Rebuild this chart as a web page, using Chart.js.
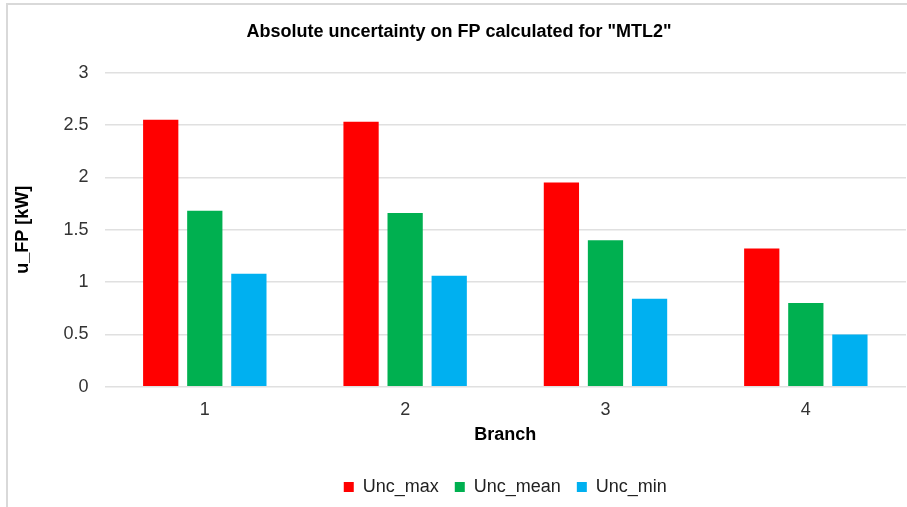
<!DOCTYPE html>
<html>
<head>
<meta charset="utf-8">
<script src="https://cdn.jsdelivr.net/npm/chart.js@4/dist/chart.umd.min.js"></script>
<style>
  html, body { margin: 0; padding: 0; background: #fff; }
  #wrap { position: relative; width: 907px; height: 507px; overflow: hidden; }
  #frame { position: absolute; left: 6px; top: 3px; width: 1000px; height: 1000px; border-left: 2px solid #d9d9d9; border-top: 2px solid #d9d9d9; box-sizing: border-box; }
  canvas { position: absolute; left: 0; top: 0; }
</style>
</head>
<body>
<div id="wrap">
  <div id="frame"></div>
  <canvas id="c" width="907" height="507"></canvas>
</div>
<script>
const categories = ["1", "2", "3", "4"];
const uncMax = [2.55, 2.53, 1.95, 1.32];
const uncMean = [1.68, 1.66, 1.40, 0.80];
const uncMin = [1.08, 1.06, 0.84, 0.50];
const seriesNames = ["Unc_max", "Unc_mean", "Unc_min"];

const FONT = "'Liberation Sans', Arial, sans-serif";

new Chart(document.getElementById('c'), {
  type: 'bar',
  data: {
    labels: categories,
    datasets: [
      { label: seriesNames[0], data: uncMax, backgroundColor: '#ff0000' },
      { label: seriesNames[1], data: uncMean, backgroundColor: '#00b050' },
      { label: seriesNames[2], data: uncMin, backgroundColor: '#00b0f0' }
    ]
  },
  options: {
    responsive: false,
    animation: false,
    layout: { padding: { left: 12, right: 1, top: 21, bottom: 1 } },
    datasets: { bar: { categoryPercentage: 0.66, barPercentage: 0.8 } },
    plugins: {
      title: {
        display: true,
        text: 'Absolute uncertainty on FP calculated for "MTL2"',
        color: '#000',
        font: { family: FONT, size: 18, weight: 'bold' },
        padding: { top: 0, bottom: 30 }
      },
      legend: {
        position: 'bottom',
        fullSize: false,
        labels: {
          color: '#222',
          font: { family: FONT, size: 18 },
          boxWidth: 10,
          boxHeight: 10,
          padding: 16
        }
      },
      tooltip: { enabled: false }
    },
    scales: {
      x: {
        grid: { display: false },
        border: { display: false },
        ticks: { color: '#333', font: { family: FONT, size: 18 }, padding: 4 },
        title: {
          display: true,
          text: 'Branch',
          color: '#000',
          font: { family: FONT, size: 18, weight: 'bold' },
          padding: { top: 0, bottom: 16 }
        }
      },
      y: {
        min: 0,
        max: 3,
        grid: { color: '#e0e0e0', drawTicks: false, lineWidth: 1.5 },
        border: { display: false },
        ticks: {
          stepSize: 0.5,
          color: '#333',
          font: { family: FONT, size: 18 },
          padding: 16,
          callback: (v) => String(v)
        },
        title: {
          display: true,
          text: 'u_FP [kW]',
          color: '#000',
          font: { family: FONT, size: 18, weight: 'bold' },
          padding: { top: 0, bottom: 14 }
        }
      }
    }
  }
});
</script>
</body>
</html>
